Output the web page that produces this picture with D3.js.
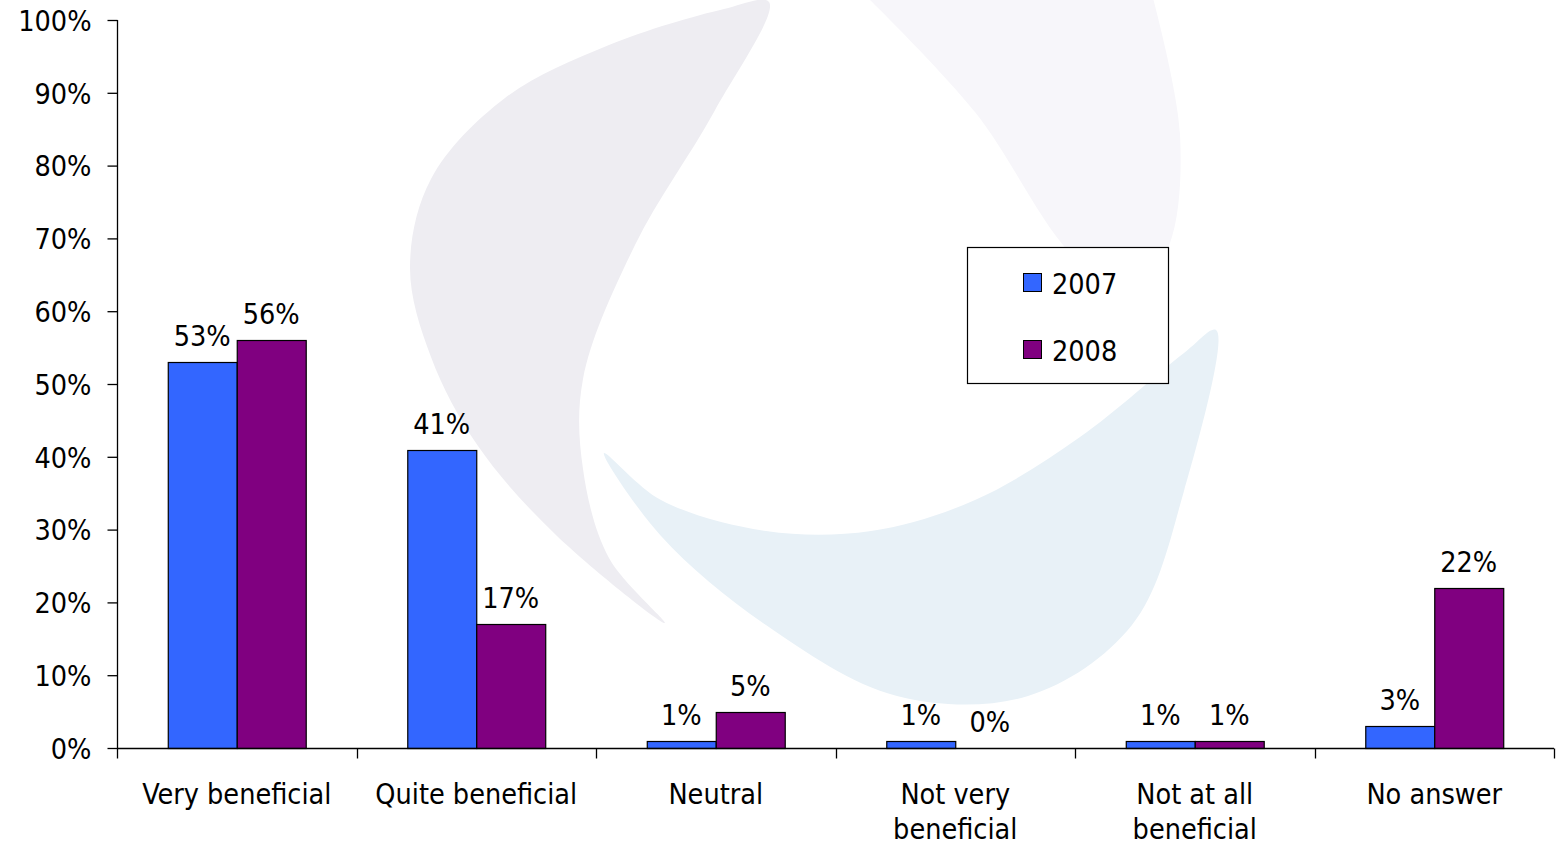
<!DOCTYPE html>
<html>
<head>
<meta charset="utf-8">
<script src="https://cdn.jsdelivr.net/npm/d3@7"></script>
<style>
  html, body { margin: 0; padding: 0; background: #fff; }
  svg text { font-family: 'DejaVu Sans Condensed', 'DejaVu Sans', sans-serif; fill: #000; }
</style>
</head>
<body>
<svg id="chart" width="1557" height="846"></svg>
<script>
// ---- data ----
const categories = ["Very beneficial", "Quite beneficial", "Neutral", "Not very beneficial", "Not at all beneficial", "No answer"];
const categoryLines = [["Very beneficial"], ["Quite beneficial"], ["Neutral"], ["Not very", "beneficial"], ["Not at all", "beneficial"], ["No answer"]];
const seriesNames = ["2007", "2008"];
const values2007 = [53, 41, 1, 1, 1, 3];
const values2008 = [56, 17, 5, 0, 1, 22];
const seriesColors = ["#3366FF", "#800080"];
const yTicks = [0, 10, 20, 30, 40, 50, 60, 70, 80, 90, 100];

const svg = d3.select("#chart");
const W = 1557, H = 846;
const m = { left: 117, right: 3, top: 20, bottom: 98 };
const plotBottom = 748;
const FS = 28.5;

// ---- watermark (decorative background logo) ----
const wm = svg.append("g");
const line = d3.line().curve(d3.curveCatmullRomClosed);
// grey blade
wm.append("path").attr("fill", "#eeedf2").attr("d", line([
  [769, 2], [724, 9], [609, 45], [505, 98], [431, 179], [410, 268], [431, 357], [478, 446], [557, 536], [665, 623],
  [609, 558], [583, 469], [583, 379], [635, 245], [714, 112]
]));
// faint lavender blade (top right)
wm.append("path").attr("fill", "#f7f6fa").attr("d", d3.line().curve(d3.curveCatmullRom)([
  [868, -2], [975, 112], [1069, 252], [1130, 300], [1169, 246], [1180, 134], [1153, -2]
]) + "Z");
// light blue blade
wm.append("path").attr("fill", "#e8f1f7").attr("d", line([
  [1216, 330], [1184, 491], [1132, 625], [1028, 696], [897, 696], [766, 625], [661, 536], [604, 453],
  [661, 500], [766, 531], [871, 531], [975, 500], [1080, 437], [1184, 353]
]));

// ---- scales ----
const x0 = d3.scaleBand().domain(categories).range([m.left, W - m.right]).paddingInner(0).paddingOuter(0);
const bw = x0.bandwidth();
const pad = bw * 0.212;
const x1 = d3.scaleBand().domain(seriesNames).range([pad, bw - pad]).padding(0);
const y = d3.scaleLinear().domain([0, 100]).range([plotBottom, m.top]);

// ---- bars ----
const data = categories.map((c, i) => ({ cat: c, vals: [values2007[i], values2008[i]] }));
const groups = svg.append("g").selectAll("g").data(data).join("g")
  .attr("transform", d => `translate(${x0(d.cat)},0)`);
groups.selectAll("rect").data(d => d.vals.map((v, j) => ({ v, s: seriesNames[j], j })))
  .join("rect")
  .filter(d => d.v > 0)
  .attr("x", d => x1(d.s) + 0.5)
  .attr("y", d => Math.round(y(d.v)) + 0.5)
  .attr("width", x1.bandwidth())
  .attr("height", d => plotBottom - Math.round(y(d.v)))
  .attr("fill", d => seriesColors[d.j])
  .attr("stroke", "#000")
  .attr("stroke-width", 1.2);

// value labels
groups.selectAll("text.val").data(d => d.vals.map((v, j) => ({ v, s: seriesNames[j] })))
  .join("text").attr("class", "val")
  .attr("x", d => x1(d.s) + x1.bandwidth() / 2)
  .attr("y", d => y(d.v) - 16)
  .attr("text-anchor", "middle")
  .attr("font-size", FS)
  .text(d => d.v + "%");

// ---- y axis ----
const yAxis = d3.axisLeft(y).tickValues(yTicks).tickFormat(d => d + "%").tickSize(10).tickPadding(16);
const gy = svg.append("g").attr("transform", `translate(${m.left + 0.5},0)`).call(yAxis);
gy.select(".domain").attr("d", `M0,${m.top}V${plotBottom}`).attr("stroke", "#000").attr("stroke-width", 1.3);
gy.selectAll(".tick line").attr("stroke", "#000").attr("stroke-width", 1.3);
gy.selectAll(".tick text").attr("font-size", FS).attr("font-family", null).attr("fill", "#000").attr("dy", "0.36em");

// ---- x axis ----
const gx = svg.append("g").attr("transform", `translate(0,${plotBottom + 0.5})`);
gx.append("line").attr("x1", m.left).attr("x2", W - m.right).attr("stroke", "#000").attr("stroke-width", 1.3);
const boundaries = categories.map(c => x0(c)).concat([x0(categories[categories.length - 1]) + bw]);
gx.selectAll("line.tk").data(boundaries).join("line").attr("class", "tk")
  .attr("x1", d => Math.round(d) + 0.5).attr("x2", d => Math.round(d) + 0.5)
  .attr("y1", 0).attr("y2", 10).attr("stroke", "#000").attr("stroke-width", 1.3);
const labs = gx.selectAll("text.cat").data(categories.map((c, i) => ({ c, lines: categoryLines[i] })))
  .join("text").attr("class", "cat")
  .attr("text-anchor", "middle").attr("font-size", FS)
  .attr("transform", d => `translate(${x0(d.c) + bw / 2},0)`);
labs.selectAll("tspan").data(d => d.lines).join("tspan")
  .attr("x", 0).attr("y", (d, i) => 55 + i * 35.5).text(d => d);

// ---- legend ----
const lg = svg.append("g");
lg.append("rect").attr("x", 967.5).attr("y", 247.5).attr("width", 201).attr("height", 136)
  .attr("fill", "#fff").attr("stroke", "#000").attr("stroke-width", 1.2);
const li = lg.selectAll("g.item").data(seriesNames).join("g").attr("class", "item")
  .attr("transform", (d, i) => `translate(1023,${273 + i * 67})`);
li.append("rect").attr("x", 0.5).attr("y", 0.5).attr("width", 18).attr("height", 18)
  .attr("fill", (d, i) => seriesColors[i]).attr("stroke", "#000").attr("stroke-width", 1);
li.append("text").attr("x", 29).attr("y", 21).attr("font-size", FS).text(d => d);
</script>
</body>
</html>
